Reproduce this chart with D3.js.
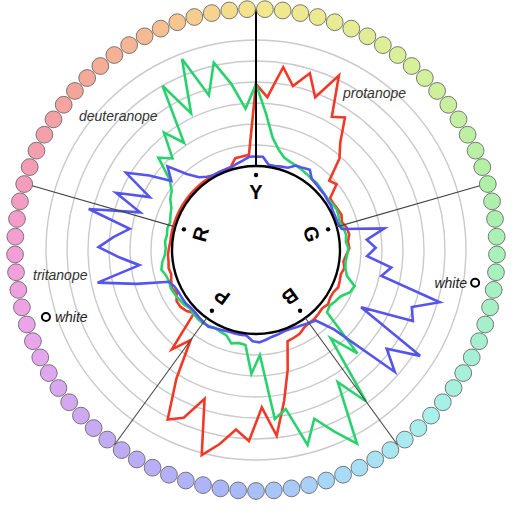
<!DOCTYPE html>
<html>
<head>
<meta charset="utf-8">
<script src="https://d3js.org/d3.v7.min.js"></script>
<style>
  body { margin: 0; background: #fff; }
  svg { display: block; }
  text { font-family: "Liberation Sans", Arial, sans-serif; }
</style>
</head>
<body>
<svg id="chart" width="512" height="512"></svg>
<script>
// 85 caps, error score above baseline for each cap (0 = inner circle)
const capCount = 85;

const protanope = [
  3.9, 3.3, 4.8, 4.0, 4.8, 3.8, 5.2, 3.3, 3.6, 2.5,
  1.9, 0.8, 0.95, 0.3, 0.3, 0.35, 0.4, 0.3, 0.45, 0.5,
  0.4, 0.45, 0.3, 0.2, 0.3, 0.2, 0.25, 0.3, 0.2, 0.2,
  0.3, 0.2, 0.25, 0.3, 0.3, 0.35, 0.5, 0.55, 0.6, 1.9,
  3.3, 4.9, 3.5, 5.1, 4.6, 5.4, 6.1, 3.5, 4.7, 5.1,
  3.2, 1.3, 2.2, 0.2, 0.4, 0.5, 0.5, 0.3, 0.4, 0.3,
  0.2, 0.25, 0.2, 0.2, 0.15, 0.1, 0.1, 0.1, 0.1, 0.1,
  0.1, 0.1, 0.1, 0.1, 0.1, 0.1, 0.1, 0.1, 0.1, 0.1,
  0.1, 0.13, 0.48, 0.5, 0.55
];

const deuteranope = [
  3.9, 2.5, 1.4, 0.9, 0.6, 0.5, 0.45, 0.4, 0.35, 0.3,
  0.3, 0.25, 0.2, 0.2, 0.25, 0.3, 0.25, 0.2, 0.3, 0.35,
  0.3, 0.4, 0.35, 0.3, 0.35, 0.5, 1.0, 0.9, 0.6, 0.5,
  0.4, 0.5, 2.9, 1.5, 4.9, 3.4, 6.4, 5.4, 4.5, 5.6,
  3.7, 4.1, 1.0, 1.9, 0.55, 0.5, 0.6, 0.3, 0.25, 0.2,
  0.25, 0.3, 0.3, 0.25, 0.2, 0.3, 0.35, 0.4, 0.45, 0.4,
  0.45, 0.6, 0.5, 0.35, 0.3, 0.35, 0.3, 0.35, 0.3, 0.4,
  0.5, 0.75, 0.9, 1.3, 2.4, 1.9, 3.1, 2.15, 5.0, 3.2,
  5.75, 3.7, 5.15, 4.0, 2.75
];

const tritanope = [
  0.45, 0.45, 0.1, 0.1, 0.15, 0.2, 0.45, 0.5, 0.6, 0.3,
  0.25, 0.2, 0.2, 0.15, 0.15, 0.1, 0.1, 0.1, 0.2, 2.2,
  1.3, 1.7, 1.3, 2.5, 2.1, 5.1, 3.9, 4.2, 1.7, 5.3,
  3.8, 4.8, 1.3, 0.4, 0.3, 0.2, 0.15, 0.1, 0.1, 0.15,
  0.2, 0.3, 0.4, 0.35, 0.1, 0.1, 0.1, 0.1, 0.15, 0.2,
  0.3, 0.25, 0.2, 0.15, 0.15, 0.2, 0.2, 0.2, 0.25, 0.4,
  1.9, 3.7, 1.6, 2.5, 3.5, 2.8, 2.1, 4.2, 1.8, 3.2,
  1.65, 3.2, 2.2, 1.2, 1.8, 0.9, 0.4, 0.2, 0.1, 0.1,
  0.1, 0.1, 0.2, 0.3, 0.45
];

const seriesNames = ["protanope", "deuteranope", "tritanope"];
const hueLabels = ["Y", "G", "B", "P", "R"];
const hueAngles = [0, 74, 144, 216, 286];
const ringValues = [1, 2, 3, 4, 5, 6];
const whiteAngles = [98.5, 252.3];
const whiteValues = [6.55, 6.5];

const svg = d3.select('#chart');
const cx = 256, cy = 250;
const innerR = 84, outerR = 210, dotRingR = 241, dotR = 8.4;

const g = svg.append('g').attr('transform', `translate(${cx},${cy})`);

const r = d3.scaleLinear().domain([0, 6]).range([innerR, outerR]);
const capAngle = d3.scaleLinear().domain([0, capCount]).range([0, 2 * Math.PI]);
const degToRad = d3.scaleLinear().domain([0, 360]).range([0, 2 * Math.PI]);

// pastel hue wheel for the cap dots
const capColor = d3.scaleLinear()
    .domain([0, 40, 75, 110, 135, 160, 185, 215, 245, 270, 290, 310, 335, 360])
    .range(["#f4e68c", "#d8f09a", "#aef0a8", "#a4f0cc", "#a8f0ec", "#a8daf8", "#a8b8f8",
            "#c0aaf4", "#e6a6ee", "#f49ed6", "#f49cb4", "#f4a49c", "#f6bc92", "#f4e68c"])
    .interpolate(d3.interpolateRgb);

const seriesColor = {protanope: "#f03a28", deuteranope: "#2ad26e", tritanope: "#5555ee"};

function polar(a, rad) {
    return [rad * Math.sin(a), -rad * Math.cos(a)];
}

// grey rings
g.append('g').selectAll('circle')
    .data(ringValues)
    .join('circle')
    .attr('r', d => r(d))
    .attr('fill', 'none')
    .attr('stroke', '#cacaca')
    .attr('stroke-width', 1.4);

// series lines
const line = d3.lineRadial()
    .angle((d, i) => capAngle(i))
    .radius(d => r(d))
    .curve(d3.curveLinearClosed);

const seriesData = [protanope, deuteranope, tritanope];
g.append('g').selectAll('path')
    .data(seriesData)
    .join('path')
    .attr('d', line)
    .attr('fill', 'none')
    .attr('stroke', (d, i) => seriesColor[seriesNames[i]])
    .attr('stroke-width', 2.6)
    .attr('stroke-linejoin', 'miter');

// inner circle
g.append('circle')
    .attr('r', innerR)
    .attr('fill', '#fff')
    .attr('stroke', '#000')
    .attr('stroke-width', 2.4);

// spokes
g.append('g').selectAll('line')
    .data(hueAngles)
    .join('line')
    .attr('x1', d => polar(degToRad(d), innerR)[0])
    .attr('y1', d => polar(degToRad(d), innerR)[1])
    .attr('x2', d => polar(degToRad(d), dotRingR)[0])
    .attr('y2', d => polar(degToRad(d), dotRingR)[1])
    .attr('stroke', (d, i) => i === 0 ? '#000' : '#444')
    .attr('stroke-width', (d, i) => i === 0 ? 2 : 1.1);

// hue letters with small dots
const hue = g.append('g').selectAll('g')
    .data(hueLabels)
    .join('g');

hue.append('circle')
    .attr('cx', (d, i) => polar(degToRad(hueAngles[i]), 75)[0])
    .attr('cy', (d, i) => polar(degToRad(hueAngles[i]), 75)[1])
    .attr('r', 2.2)
    .attr('fill', '#000');

hue.append('text')
    .attr('transform', (d, i) => {
        const p = polar(degToRad(hueAngles[i]), 58);
        return `translate(${p[0]},${p[1]}) rotate(${hueAngles[i]})`;
    })
    .attr('text-anchor', 'middle')
    .attr('dy', '0.36em')
    .style('font-size', '20px')
    .style('font-weight', 'bold')
    .text(d => d);

// cap dots
g.append('g').selectAll('circle')
    .data(d3.range(capCount))
    .join('circle')
    .attr('cx', d => polar(capAngle(d + 0.5), dotRingR)[0])
    .attr('cy', d => polar(capAngle(d + 0.5), dotRingR)[1])
    .attr('r', dotR)
    .attr('fill', d => capColor((d + 0.5) * 360 / capCount))
    .attr('stroke', '#6a6a6a')
    .attr('stroke-width', 0.9);

// series name labels
const nameLayout = [
    {x: 343, y: 98, anchor: 'start'},
    {x: 79, y: 121, anchor: 'start'},
    {x: 33, y: 280, anchor: 'start'}
];
svg.append('g').selectAll('text')
    .data(seriesNames)
    .join('text')
    .attr('x', (d, i) => nameLayout[i].x)
    .attr('y', (d, i) => nameLayout[i].y)
    .attr('text-anchor', (d, i) => nameLayout[i].anchor)
    .style('font-size', '14px')
    .style('font-style', 'italic')
    .attr('fill', '#333')
    .text(d => d);

// white points
const white = g.append('g').selectAll('g')
    .data(whiteAngles)
    .join('g')
    .attr('transform', (d, i) => {
        const p = polar(degToRad(d), r(whiteValues[i]));
        return `translate(${p[0]},${p[1]})`;
    });

white.append('circle')
    .attr('r', 4)
    .attr('fill', '#fff')
    .attr('stroke', '#000')
    .attr('stroke-width', 2);

white.append('text')
    .attr('x', (d, i) => i === 0 ? -8 : 9)
    .attr('dy', '0.35em')
    .attr('text-anchor', (d, i) => i === 0 ? 'end' : 'start')
    .style('font-size', '14px')
    .style('font-style', 'italic')
    .attr('fill', '#222')
    .text('white');
</script>
</body>
</html>
